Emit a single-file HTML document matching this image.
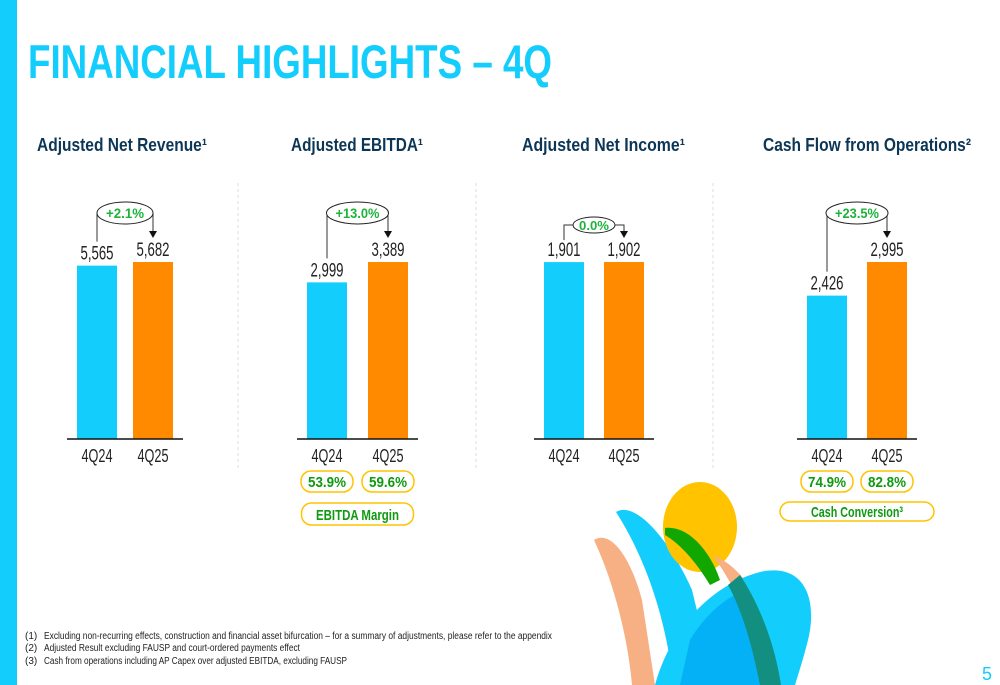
<!DOCTYPE html>
<html><head><meta charset="utf-8"><style>
html,body{margin:0;padding:0;background:#fff;}
svg{display:block;font-family:"Liberation Sans",sans-serif;}
</style></head><body>
<svg id="root" width="1000" height="685" viewBox="0 0 1000 685" xmlns="http://www.w3.org/2000/svg">
<rect x="0" y="0" width="17" height="685" fill="#13cdfc"/>
<text x="28" y="78" font-size="47" font-weight="bold" fill="#13cdfc" textLength="524" lengthAdjust="spacingAndGlyphs">FINANCIAL HIGHLIGHTS – 4Q</text>

<g>
<path d="M594,540 C610,530 630,555 642,600 L655,685 L632,685 C628,640 615,585 594,540 Z" fill="#f7b084"/>
<path d="M616,512 C635,500 670,540 692,590 L715,685 L673,685 C668,630 650,565 616,512 Z" fill="#13cdfc"/>
<ellipse cx="700" cy="527" rx="37" ry="45" fill="#ffc300"/>
<path d="M665,528 C690,525 712,555 720,580 L710,585 C698,565 682,545 665,535 Z" fill="#12a600"/>
<path d="M713,556 C745,565 775,620 790,685 L770,685 C755,630 735,585 713,556 Z" fill="#f7b084"/>
<path d="M655,685 C670,630 710,585 760,572 C805,562 818,600 808,640 C803,660 798,675 795,685 Z" fill="#13cdfc"/>
<path d="M690,640 C705,615 725,598 745,590 L775,685 L680,685 Z" fill="#02aaf5" opacity="0.85"/>
<path d="M740,575 C760,605 775,645 781,685 L760,685 C752,645 742,610 728,585 Z" fill="#128f80"/>
</g>

<g id="charts"></g>

<g font-size="10" fill="#222">
<text x="25" y="639">(1)</text>
<text x="44" y="639" textLength="508" lengthAdjust="spacingAndGlyphs">Excluding non-recurring effects, construction and financial asset bifurcation – for a summary of adjustments, please refer to the appendix</text>
<text x="25" y="651">(2)</text>
<text x="44" y="651" textLength="256" lengthAdjust="spacingAndGlyphs">Adjusted Result excluding FAUSP and court-ordered payments effect</text>
<text x="25" y="664">(3)</text>
<text x="44" y="664" textLength="303" lengthAdjust="spacingAndGlyphs">Cash from operations including AP Capex over adjusted EBITDA, excluding FAUSP</text>
</g>
<text x="982" y="680" font-size="18" fill="#13cdfc">5</text>
</svg>
<script>
const titles = ["Adjusted Net Revenue¹","Adjusted EBITDA¹","Adjusted Net Income¹","Cash Flow from Operations²"];
const categories = ["4Q24","4Q25"];
const prevValues = [5565, 2999, 1901, 2426];
const currValues = [5682, 3389, 1902, 2995];
const valueLabels = [["5,565","5,682"],["2,999","3,389"],["1,901","1,902"],["2,426","2,995"]];
const growthLabels = ["+2.1%","+13.0%","0.0%","+23.5%"];
const pillLabels = [null, ["53.9%","59.6%"], null, ["74.9%","82.8%"]];
const pillCaptions = [null, "EBITDA Margin", null, "Cash Conversion³"];

const NS="http://www.w3.org/2000/svg";
const root=document.getElementById('charts');
function mk(tag,attrs,parent,text){const e=document.createElementNS(NS,tag);for(const k in attrs)e.setAttribute(k,attrs[k]);if(text!=null)e.textContent=text;(parent||root).appendChild(e);return e;}

const titleX=[37,291,522,763], titleW=[170,132,163,208];
const barX=[[77,133],[307,368],[544,604],[807,867]];
const barW=40, base=439, maxH=177;
const dividers=[238,476,713];
dividers.forEach((x,i)=>{
  const l=mk('line',{x1:x,y1:183,x2:x,y2:470,stroke:'#ddd','stroke-dasharray':'3,3'});
  
  
});
for(let c=0;c<4;c++){
  const g=mk('g',{});
  
  
  const t=mk('text',{x:titleX[c],y:151,'font-size':18,'font-weight':'bold',fill:'#0c3656',textLength:titleW[c],lengthAdjust:'spacingAndGlyphs'},g,titles[c]);
  
  
  const vals=[prevValues[c],currValues[c]];
  const mx=Math.max(...vals);
  const y=v=>base-v/mx*maxH;
  const cols=['#13cdfc','#ff8a00'];
  const tops=[];
  for(let i=0;i<2;i++){
    const yt=y(vals[i]); tops.push(yt);
    const r=mk('rect',{x:barX[c][i],y:yt,width:barW,height:base-yt,fill:cols[i]},g);
    
    
    const vl=mk('text',{x:barX[c][i]+barW/2,y:yt-6,'font-size':19,'text-anchor':'middle',fill:'#222',textLength:33,lengthAdjust:'spacingAndGlyphs'},g,valueLabels[c][i]);
    
    
    const cl=mk('text',{x:barX[c][i]+barW/2,y:462,'font-size':18,'text-anchor':'middle',fill:'#222',textLength:31,lengthAdjust:'spacingAndGlyphs'},g,categories[i]);
    
    
  }
  const ax=mk('line',{x1:barX[c][0]-10,y1:base,x2:barX[c][1]+barW+10,y2:base,stroke:'#111','stroke-width':1.5},g);
  
  
  const lx=barX[c][0]+barW/2, rx=barX[c][1]+barW/2;
  const small=(c===2);
  const ey=small?225:213, erx=small?21:(growthLabels[c].length>5?31:28), ery=small?8:11;
  const ecx=(lx+rx)/2;
  const ann=mk('g',{},g);
  
  
  if(small){
    mk('path',{d:`M${lx},${tops[0]-22} V${ey} H${ecx-erx}`,fill:'none',stroke:'#333','stroke-width':1},ann);
    mk('path',{d:`M${ecx+erx},${ey} H${rx} V${tops[1]-28}`,fill:'none',stroke:'#333','stroke-width':1},ann);
  } else {
    mk('path',{d:`M${lx},${tops[0]-24} V${ey}`,fill:'none',stroke:'#333','stroke-width':1},ann);
    mk('path',{d:`M${rx},${ey} V${tops[1]-30}`,fill:'none',stroke:'#333','stroke-width':1},ann);
  }
  const ay=tops[1]-24;
  mk('path',{d:`M${rx-4},${ay-7} L${rx+4},${ay-7} L${rx},${ay} Z`,fill:'#111'},ann);
  mk('ellipse',{cx:ecx,cy:ey,rx:erx,ry:ery,fill:'#fff',stroke:'#222','stroke-width':1},ann);
  mk('text',{x:ecx,y:ey+5,'font-size':small?13:14,'font-weight':'bold','text-anchor':'middle',fill:'#1db33a',textLength:small?30:(growthLabels[c].length>5?44:38),lengthAdjust:'spacingAndGlyphs'},ann,growthLabels[c]);
  if(pillLabels[c]){
    for(let i=0;i<2;i++){
      const px=barX[c][i]+barW/2;
      const p=mk('g',{},g);
      
      
      mk('rect',{x:px-26,y:471,width:52,height:21,rx:10,fill:'#fff',stroke:'#ffc300','stroke-width':1.5},p);
      mk('text',{x:px,y:487,'font-size':15,'font-weight':'bold','text-anchor':'middle',fill:'#0f9a0f',textLength:38,lengthAdjust:'spacingAndGlyphs'},p,pillLabels[c][i]);
    }
    const wide=c===3;
    const cx=(lx+rx)/2, w=wide?154:112;
    const cp=mk('g',{},g);
    
    
    mk('rect',{x:cx-w/2,y:wide?502:503,width:w,height:wide?19:22,rx:10,fill:'#fff',stroke:'#ffc300','stroke-width':1.5},cp);
    mk('text',{x:cx,y:wide?517:520,'font-size':15,'font-weight':'bold','text-anchor':'middle',fill:'#0f9a0f',textLength:wide?92:83,lengthAdjust:'spacingAndGlyphs'},cp,pillCaptions[c]);
  }
}
</script>
</body></html>
